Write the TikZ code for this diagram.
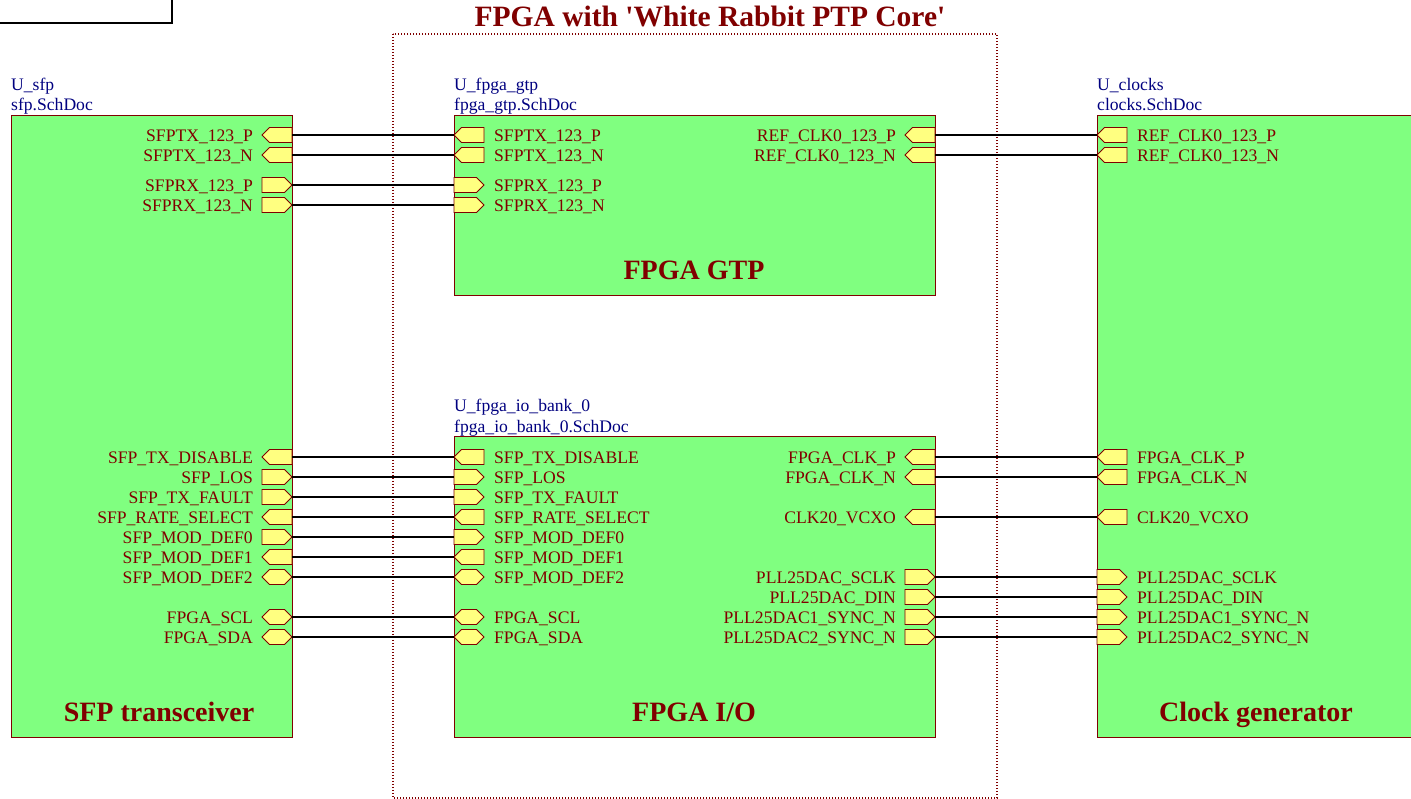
\documentclass[tikz,border=0pt]{standalone}
\usepackage{fontspec}
\setmainfont{Liberation Serif}
\usetikzlibrary{shapes.symbols}
\definecolor{dred}{HTML}{800000}
\definecolor{blockgreen}{HTML}{80FF80}
\definecolor{portyellow}{HTML}{FFFF80}
\definecolor{desnavy}{HTML}{000080}
\newcommand\pinR[5]{%
  \node[port,#4,anchor=east] (#1) at (#2,#3) {};
  \node[lbl,anchor=base east] (#1-l) at (#2-39,#3+6.5) {#5};}
\newcommand\pinL[5]{%
  \node[port,#4,anchor=west] (#1) at (#2,#3) {};
  \node[lbl,anchor=base west] (#1-l) at (#2+40,#3+6.5) {#5};}
\begin{document}
\begin{tikzpicture}[x=1pt,y=-1pt,
  block/.style={draw=dred,fill=blockgreen,line width=0.8pt,inner sep=0pt,anchor=north west},
  port/.style={signal,draw=dred,fill=portyellow,line width=0.8pt,minimum width=30pt,minimum height=15pt,inner sep=0pt,outer sep=0pt},
  lbl/.style={text=dred,font=\fontsize{17.6}{20}\selectfont,inner sep=0pt},
  des/.style={text=desnavy,font=\fontsize{17.6}{20}\selectfont,inner sep=0pt,anchor=base west},
  btitle/.style={text=dred,font=\fontsize{28}{32}\selectfont\bfseries,inner sep=0pt,anchor=base},
  wire/.style={black,line width=1.6pt},
  frame/.style={dred,line width=1.3pt,dash pattern=on 1.3pt off 1.7pt}]
\useasboundingbox (0,0) rectangle (1411,799);
\clip (0,0) rectangle (1411,799);
\fill[white] (0,0) rectangle (1411,799);
% partial rectangle at top left
\draw[black,line width=1.5pt] (-10,-10) rectangle (172,23);
% dotted frame
\draw[frame] (393,34) rectangle (997,798);
\node[btitle,font=\fontsize{29.5}{33}\selectfont\bfseries] (ttl) at (710,27) {FPGA with \textquotesingle White Rabbit PTP Core\textquotesingle};
% blocks
\node[block,minimum width=281pt,minimum height=622pt] (sfp) at (11,115) {};
\node[block,minimum width=481pt,minimum height=180pt] (gtp) at (454,115) {};
\node[block,minimum width=481pt,minimum height=301pt] (io) at (454,436) {};
\node[block,minimum width=330pt,minimum height=622pt] (clk) at (1097,115) {};
% designators
\node[des] (sfp-d1) at (11,91) {U\_sfp};
\node[des] (sfp-d2) at (11,111) {sfp.SchDoc};
\node[des] (gtp-d1) at (454,91) {U\_fpga\_gtp};
\node[des] (gtp-d2) at (454,111) {fpga\_gtp.SchDoc};
\node[des] (io-d1) at (454,412) {U\_fpga\_io\_bank\_0};
\node[des] (io-d2) at (454,432) {fpga\_io\_bank\_0.SchDoc};
\node[des] (clk-d1) at (1097,91) {U\_clocks};
\node[des] (clk-d2) at (1097,111) {clocks.SchDoc};
% block titles
\node[btitle] (sfp-t) at (159,721.5) {SFP transceiver};
\node[btitle] (gtp-t) at (694,279.5) {FPGA GTP};
\node[btitle] (io-t) at (694,721.5) {FPGA I/O};
\node[btitle] (clk-t) at (1256,721.5) {Clock generator};
% SFP ports
\pinR{sfp1}{292}{135}{signal to=west}{SFPTX\_123\_P}
\pinR{sfp2}{292}{155}{signal to=west}{SFPTX\_123\_N}
\pinR{sfp3}{292}{185}{signal to=east}{SFPRX\_123\_P}
\pinR{sfp4}{292}{205}{signal to=east}{SFPRX\_123\_N}
\pinR{sfp5}{292}{457}{signal to=west}{SFP\_TX\_DISABLE}
\pinR{sfp6}{292}{477}{signal to=east}{SFP\_LOS}
\pinR{sfp7}{292}{497}{signal to=east}{SFP\_TX\_FAULT}
\pinR{sfp8}{292}{517}{signal to=west}{SFP\_RATE\_SELECT}
\pinR{sfp9}{292}{537}{signal to=east}{SFP\_MOD\_DEF0}
\pinR{sfp10}{292}{557}{signal to=west}{SFP\_MOD\_DEF1}
\pinR{sfp11}{292}{577}{signal to=east and west}{SFP\_MOD\_DEF2}
\pinR{sfp12}{292}{617}{signal to=east and west}{FPGA\_SCL}
\pinR{sfp13}{292}{637}{signal to=east and west}{FPGA\_SDA}
% GTP ports
\pinL{fp1}{454}{135}{signal to=west}{SFPTX\_123\_P}
\pinL{fp2}{454}{155}{signal to=west}{SFPTX\_123\_N}
\pinL{fp3}{454}{185}{signal to=east}{SFPRX\_123\_P}
\pinL{fp4}{454}{205}{signal to=east}{SFPRX\_123\_N}
\pinR{gr1}{935}{135}{signal to=west}{REF\_CLK0\_123\_P}
\pinR{gr2}{935}{155}{signal to=west}{REF\_CLK0\_123\_N}
% IO ports left
\pinL{fp5}{454}{457}{signal to=west}{SFP\_TX\_DISABLE}
\pinL{fp6}{454}{477}{signal to=east}{SFP\_LOS}
\pinL{fp7}{454}{497}{signal to=east}{SFP\_TX\_FAULT}
\pinL{fp8}{454}{517}{signal to=west}{SFP\_RATE\_SELECT}
\pinL{fp9}{454}{537}{signal to=east}{SFP\_MOD\_DEF0}
\pinL{fp10}{454}{557}{signal to=west}{SFP\_MOD\_DEF1}
\pinL{fp11}{454}{577}{signal to=east and west}{SFP\_MOD\_DEF2}
\pinL{fp12}{454}{617}{signal to=east and west}{FPGA\_SCL}
\pinL{fp13}{454}{637}{signal to=east and west}{FPGA\_SDA}
% IO ports right
\pinR{gr3}{935}{457}{signal to=west}{FPGA\_CLK\_P}
\pinR{gr4}{935}{477}{signal to=west}{FPGA\_CLK\_N}
\pinR{gr5}{935}{517}{signal to=west}{CLK20\_VCXO}
\pinR{gr6}{935}{577}{signal to=east}{PLL25DAC\_SCLK}
\pinR{gr7}{935}{597}{signal to=east}{PLL25DAC\_DIN}
\pinR{gr8}{935}{617}{signal to=east}{PLL25DAC1\_SYNC\_N}
\pinR{gr9}{935}{637}{signal to=east}{PLL25DAC2\_SYNC\_N}
% Clock ports
\pinL{ck1}{1097}{135}{signal to=west}{REF\_CLK0\_123\_P}
\pinL{ck2}{1097}{155}{signal to=west}{REF\_CLK0\_123\_N}
\pinL{ck3}{1097}{457}{signal to=west}{FPGA\_CLK\_P}
\pinL{ck4}{1097}{477}{signal to=west}{FPGA\_CLK\_N}
\pinL{ck5}{1097}{517}{signal to=west}{CLK20\_VCXO}
\pinL{ck6}{1097}{577}{signal to=east}{PLL25DAC\_SCLK}
\pinL{ck7}{1097}{597}{signal to=east}{PLL25DAC\_DIN}
\pinL{ck8}{1097}{617}{signal to=east}{PLL25DAC1\_SYNC\_N}
\pinL{ck9}{1097}{637}{signal to=east}{PLL25DAC2\_SYNC\_N}
% wires
\foreach \k in {1,...,13} {\draw[wire] (sfp\k.east) -- (fp\k.west);}
\foreach \k in {1,...,9} {\draw[wire] (gr\k.east) -- (ck\k.west);}
\end{tikzpicture}
\end{document}
